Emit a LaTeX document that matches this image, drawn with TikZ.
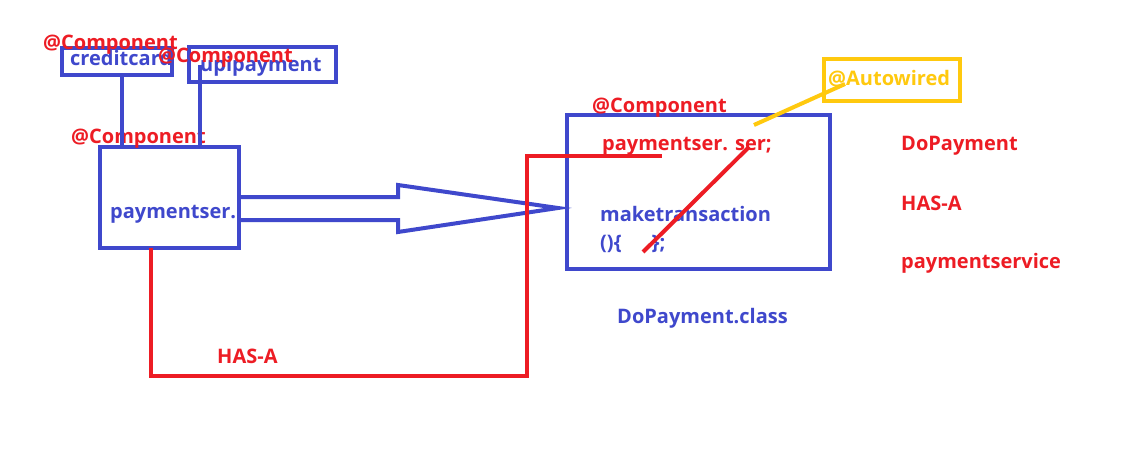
\documentclass[tikz,border=0pt]{standalone}
\usepackage{fontspec}
\setmainfont{Open Sans}
\definecolor{pblue}{HTML}{3F48CC}
\definecolor{pred}{HTML}{ED1C24}
\definecolor{pyellow}{HTML}{FFC90E}
\begin{document}
\begin{tikzpicture}[x=1pt,y=-1pt,
  box/.style={draw=pblue,line width=4pt,rectangle,inner sep=0pt,outer sep=0pt,anchor=north west},
  lbl/.style={inner sep=0pt,anchor=base west,font=\fontsize{20}{20}\selectfont\bfseries},
  bluetxt/.style={lbl,text=pblue},
  redtxt/.style={lbl,text=pred},
  bline/.style={draw=pblue,line width=4pt},
  rline/.style={draw=pred,line width=4pt},
  yline/.style={draw=pyellow,line width=4pt}]
\useasboundingbox[fill=white] (0,0) rectangle (1133,460);
% boxes
\node[box,minimum width=110pt,minimum height=27pt] (cc) at (62,48) {};
\node[box,minimum width=147pt,minimum height=35pt] (upi) at (189,47) {};
\node[box,minimum width=139pt,minimum height=101pt] (ps) at (100,147) {};
\node[box,minimum width=263pt,minimum height=154pt] (dp) at (567,115) {};
\node[box,draw=pyellow,minimum width=136pt,minimum height=42pt] (aw) at (824,59) {};
% texts in boxes
\node[bluetxt] (cctxt) at (70,66) {creditcard};
\node[bluetxt] (upitxt) at (200,71) {upipayment};
\node[bluetxt] (pstxt) at (110,218) {paymentser.};
\node[redtxt] (sertxt) at (602,150) {paymentser. ser;};
\node[bluetxt] (mktxt) at (600,221) {maketransaction};
\node[bluetxt] (brtxt) at (600,249) {()\{\hspace{30pt}\};};
\node[lbl,text=pyellow] (awtxt) at (828,85) {@Autowired};
% annotations
\node[redtxt] (c1) at (43,50) {@Component};
\node[redtxt] (c2) at (158,63) {@Component};
\node[redtxt] (c3) at (71,143) {@Component};
\node[redtxt] (c4) at (592,112) {@Component};
\node[redtxt] (r1) at (901,150) {DoPayment};
\node[redtxt] (r2) at (901,210) {HAS-A};
\node[redtxt] (r3) at (901,268) {paymentservice};
\node[bluetxt] (cls) at (617,323) {DoPayment.class};
\node[redtxt] (hasa) at (217,363) {HAS-A};
% connectors
\coordinate (ccx) at (122,0);
\draw[bline] (cc.south -| ccx) -- (ps.north -| ccx);
\coordinate (upiin) at (200,65);
\draw[bline] (upiin) -- (upiin |- ps.north);
% big arrow
\coordinate (a1) at (241,197);
\coordinate (a2) at (398,197);
\coordinate (a3) at (398,185);
\coordinate (a4) at (558,208);
\coordinate (a5) at (398,232);
\coordinate (a6) at (398,220);
\coordinate (a7) at (241,220);
\draw[bline,line join=miter] (a1) -- (a2) -- (a3) -- (a4) -- (a5) -- (a6) -- (a7);
% red HAS-A connector
\coordinate (h1) at (151,376);
\coordinate (h2) at (527,376);
\coordinate (h3) at (527,156);
\coordinate (h4) at (662,156);
\draw[rline] (ps.south -| h1) -- (h1) -- (h2) -- (h3) -- (h4);
% red diagonal
\coordinate (d1) at (643,252);
\coordinate (d2) at (749,147);
\draw[rline] (d1) -- (d2);
% yellow
\coordinate (y1) at (754,125);
\coordinate (y2) at (845,84);
\draw[yline] (y1) -- (y2);
\end{tikzpicture}
\end{document}
